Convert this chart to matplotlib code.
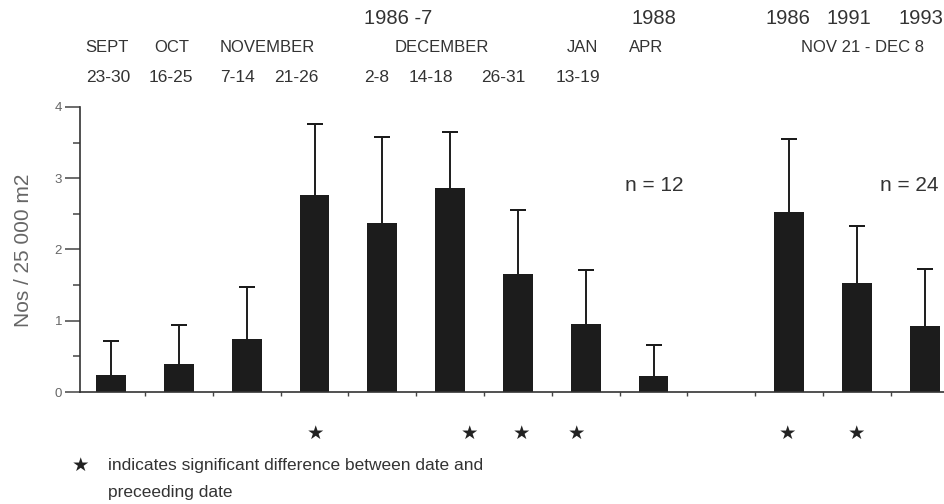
import numpy as np
import matplotlib.pyplot as plt
from matplotlib.transforms import blended_transform_factory
from matplotlib.ticker import MultipleLocator

plt.rcParams['font.family'] = ['Liberation Sans', 'DejaVu Sans']

# bar slots 0..12, slot 9 is the empty gap
slots = [0, 1, 2, 3, 4, 5, 6, 7, 8, 10, 11, 12]
means = [0.24, 0.40, 0.74, 2.76, 2.37, 2.86, 1.66, 0.95, 0.22, 2.53, 1.53, 0.93]
upper = [0.71, 0.94, 1.48, 3.76, 3.58, 3.65, 2.55, 1.71, 0.66, 3.55, 2.33, 1.73]

year_labels = ['1986 -7', '1988', '1986', '1991', '1993']
year_x = [4.23, 8.01, 9.99, 10.88, 11.94]
month_labels = ['SEPT', 'OCT', 'NOVEMBER', 'DECEMBER', 'JAN', 'APR', 'NOV 21 - DEC 8']
month_x = [-0.06, 0.90, 2.3, 4.87, 6.95, 7.89, 11.08]
day_labels = ['23-30', '16-25', '7-14', '21-26', '2-8', '14-18', '26-31', '13-19']
day_x = [-0.04, 0.88, 1.87, 2.73, 3.92, 4.72, 5.78, 6.89]
star_x = [3.01, 5.29, 6.05, 6.87, 9.97, 11.0]
n_labels = ['n = 12', 'n = 24']
n_x = [8.01, 11.77]

txt = '#333333'

fig = plt.figure(figsize=(9.45, 5.04), dpi=100)
ax = fig.add_axes([0.0847, 0.222, 0.9153, 0.566])

err = np.array(upper) - np.array(means)
ax.bar(slots, means, width=0.44, color='#1c1c1c', zorder=2)
# upper-only error bars with a cap at the top
ax.errorbar(slots, upper, yerr=[err, np.zeros(len(err))], fmt='none',
            ecolor='#1c1c1c', elinewidth=1.4, capsize=0, zorder=1)
ax.errorbar(slots, upper, yerr=0, fmt='none', ecolor='#1c1c1c',
            capsize=6, capthick=1.4, zorder=1)

ax.set_xlim(-0.46, 12.3)
ax.set_ylim(0, 4)
for s in ['top', 'right']:
    ax.spines[s].set_visible(False)
for s in ['left', 'bottom']:
    ax.spines[s].set_color('#333333')
    ax.spines[s].set_linewidth(1.2)

ax.yaxis.set_major_locator(MultipleLocator(1))
ax.yaxis.set_minor_locator(MultipleLocator(0.5))
ax.tick_params(axis='y', which='major', length=11, width=1.1, color='#444444',
               labelsize=9.5, labelcolor='#666666', pad=2)
ax.tick_params(axis='y', which='minor', length=5, width=1.1, color='#444444')
ax.set_xticks(np.arange(0.5, 12, 1))
ax.tick_params(axis='x', which='major', length=3, width=1, color='#444444',
               labelbottom=False)

fig.text(0.025, 0.504, 'Nos / 25 000 m2', rotation=90, ha='center', va='center',
         fontsize=15, color='#666666')

tr = blended_transform_factory(ax.transData, fig.transFigure)
for lab, x in zip(year_labels, year_x):
    ax.text(x, 0.964, lab, transform=tr, ha='center', va='center', fontsize=14.5, color=txt)
for lab, x in zip(month_labels, month_x):
    ax.text(x, 0.905, lab, transform=tr, ha='center', va='center', fontsize=12, color=txt)
for lab, x in zip(day_labels, day_x):
    ax.text(x, 0.847, lab, transform=tr, ha='center', va='center', fontsize=12.5, color=txt)
for x in star_x:
    ax.text(x, 0.141, '\u2605', transform=tr, ha='center', va='center', fontsize=14,
            color='#222222', family='DejaVu Sans')
for lab, x in zip(n_labels, n_x):
    ax.text(x, 2.9, lab, ha='center', va='center', fontsize=15, color=txt)

fig.text(0.085, 0.077, '\u2605', ha='center', va='center', fontsize=14,
         color='#222222', family='DejaVu Sans')
fig.text(0.114, 0.077, 'indicates significant difference between date and',
         ha='left', va='center', fontsize=12.5, color=txt)
fig.text(0.114, 0.022, 'preceeding date', ha='left', va='center', fontsize=12.5, color=txt)

fig.savefig('out.png', dpi=100)
